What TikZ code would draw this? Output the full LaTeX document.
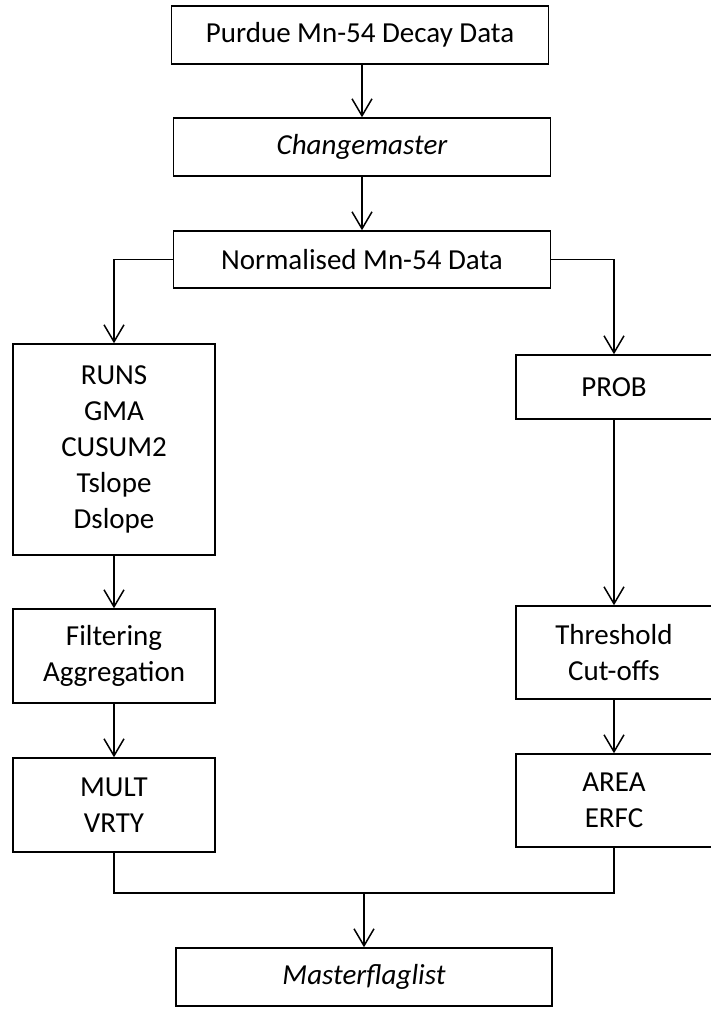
\documentclass[tikz,border=0pt]{standalone}
\usepackage{fontspec}
\setmainfont{Carlito}
\usetikzlibrary{arrows.meta}
\begin{document}
\begin{tikzpicture}[x=1pt,y=-1pt,
  box/.style={draw, line width=1.5pt, align=center, inner sep=0pt,
    font=\fontsize{29}{36}\selectfont},
  conn/.style={line width=1.5pt},
  arr/.style={conn, -{Straight Barb[length=17pt,width=20pt,line width=1.5pt]}}]
\useasboundingbox (0,0) rectangle (710,1009);
\fill[white] (0,0) rectangle (710,1009);
% top column
\node[box, minimum width=377pt, minimum height=58pt] (n1) at (360,35) {Purdue Mn-54 Decay Data};
\node[box, minimum width=377pt, minimum height=58pt] (n2) at (362,147) {\itshape Changemaster};
\node[box, minimum width=377pt, minimum height=57pt] (n3) at (362,259.5) {Normalised Mn-54 Data};
% left column
\node[box, minimum width=202pt, minimum height=211pt] (big) at (114,449.5) {RUNS\\GMA\\CUSUM2\\Tslope\\Dslope};
\node[box, minimum width=202pt, minimum height=94pt] (filt) at (114,656) {Filtering\\Aggregation};
\node[box, minimum width=202pt, minimum height=94pt] (mult) at (114,805) {MULT\\VRTY};
% right column
\node[box, minimum width=196pt, minimum height=64pt] (prob) at (614,387) {PROB};
\node[box, minimum width=196pt, minimum height=93pt] (thr) at (614,652.5) {Threshold\\Cut-offs};
\node[box, minimum width=196pt, minimum height=93pt] (area) at (614,800.5) {AREA\\ERFC};
% bottom
\node[box, minimum width=376pt, minimum height=58pt] (master) at (364,977) {\itshape Masterflaglist};
\coordinate (j) at (364,893);
% connectors
\draw[arr] (n1.south -| n2.north) -- (n2.north);
\draw[arr] (n2) -- (n3);
\draw[arr] (n3.west) -| (big.north);
\draw[arr] (n3.east) -| (prob.north);
\draw[arr] (big) -- (filt);
\draw[arr] (filt) -- (mult);
\draw[arr] (prob) -- (thr);
\draw[arr] (thr) -- (area);
\draw[conn] (mult.south) |- (j) -| (area.south);
\draw[arr] (j) -- (master.north);
\end{tikzpicture}
\end{document}
